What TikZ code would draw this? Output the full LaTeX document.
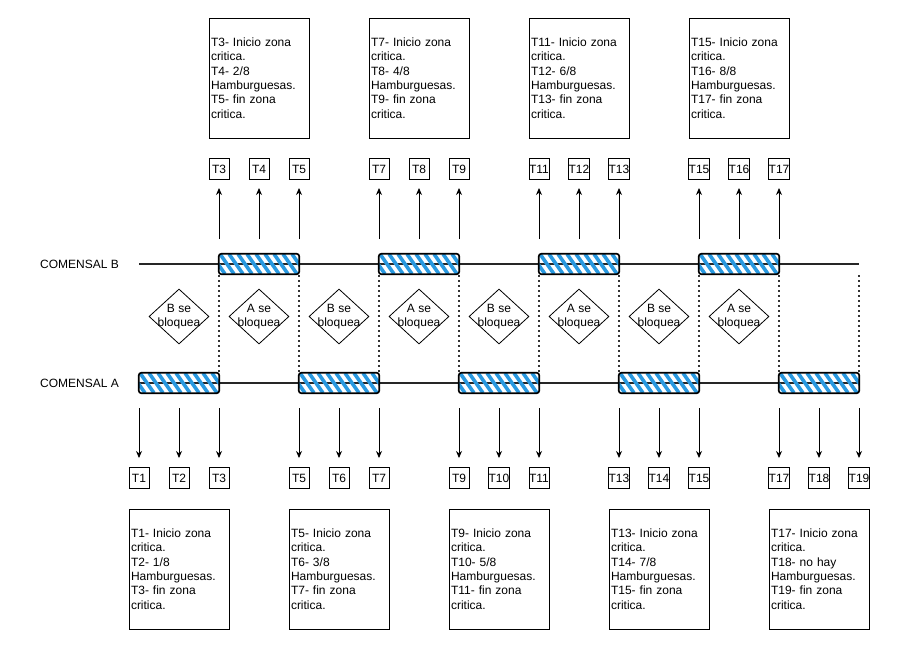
\documentclass[tikz,border=0pt]{standalone}
\usepackage{fontspec}
\setmainfont{Liberation Sans}
\usetikzlibrary{arrows.meta,shapes.geometric}
\definecolor{hblue}{RGB}{41,153,224}
\tikzset{
  every node/.style={font=\fontsize{12}{14.4}\selectfont},
  tl/.style={line width=1.3pt,black!85},
  bar/.style={minimum width=80pt,minimum height=20pt,inner sep=0pt,
    path picture={\foreach \i in {-3,...,11}{\draw[hblue,line width=3.6pt]
      ([xshift=\i*9pt-8pt]path picture bounding box.north west) -- ++(14pt,-20pt);}}},
  barborder/.style={draw=black,line width=1.7pt,rounded corners=2.5pt},
  dots/.style={line width=1.6pt,dash pattern=on 1.6pt off 3.4pt,black!80},
  tbox/.style={draw,line width=0.8pt,minimum width=20pt,minimum height=21pt,inner sep=0pt},
  infobox/.style={draw,line width=0.8pt,minimum width=100pt,minimum height=120pt,
    text width=96pt,inner xsep=2pt,inner ysep=0pt,align=left},
  dia/.style={diamond,draw,line width=0.8pt,minimum width=60pt,minimum height=55pt,inner sep=0pt},
  diatext/.style={align=center,inner sep=0pt},
  arr/.style={line width=0.9pt,-{Stealth[length=7pt,width=6pt]}},
  lbl/.style={anchor=west,inner sep=0pt}
}
\begin{document}
\begin{tikzpicture}[x=1pt,y=-1pt]
\useasboundingbox (0,0) rectangle (908,648);
% labels
\node[lbl] (lb) at (40,264) {COMENSAL B};
\node[lbl] (la) at (40,383) {COMENSAL A};
% timelines
\coordinate (bs) at (139,264); \coordinate (be) at (859,264);
\coordinate (as) at (139,383); \coordinate (ae) at (859,383);
\draw[tl] (bs) -- (be);
\draw[tl] (as) -- (ae);
% dotted verticals
\foreach \k in {3,5,7,9,11,13,15,17,19}{
  \pgfmathsetmacro\xx{139+40*(\k-1)}
  \coordinate (dt\k) at (\xx,275);
  \coordinate (db\k) at (\xx,373);
  \draw[dots] (dt\k) -- (db\k);
}
% B bars
\foreach \k/\n in {4/1,8/2,12/3,16/4}{
  \pgfmathsetmacro\xx{139+40*(\k-1)}
  \node[bar] (bb\n) at (\xx,264) {};
  \draw[barborder] (bb\n.south west) rectangle (bb\n.north east);
}
% A bars
\foreach \k/\n in {2/1,6/2,10/3,14/4,18/5}{
  \pgfmathsetmacro\xx{139+40*(\k-1)}
  \node[bar] (ab\n) at (\xx,383) {};
  \draw[barborder] (ab\n.south west) rectangle (ab\n.north east);
}
% diamonds
\foreach \k/\w/\n in {2/B/1,4/A/2,6/B/3,8/A/4,10/B/5,12/A/6,14/B/7,16/A/8}{
  \pgfmathsetmacro\xx{139+40*(\k-1)}
  \node[dia] (d\n) at (\xx,316.5) {};
  \node[diatext] (dt\n) at (d\n) {\w\ se\\bloquea};
}
% top arrows and labels
\foreach \k in {3,4,5,7,8,9,11,12,13,15,16,17}{
  \pgfmathsetmacro\xx{139+40*(\k-1)}
  \node[tbox] (ut\k) at (\xx,169) {T\k};
  \coordinate (us\k) at (\xx,239);
  \coordinate (ue\k) at (\xx,188);
  \draw[arr] (us\k) -- (ue\k);
}
% bottom arrows and labels
\foreach \k in {1,2,3,5,6,7,9,10,11,13,14,15,17,18,19}{
  \pgfmathsetmacro\xx{139+40*(\k-1)}
  \node[tbox] (lt\k) at (\xx,478) {T\k};
  \coordinate (ls\k) at (\xx,408);
  \coordinate (le\k) at (\xx,458);
  \draw[arr] (ls\k) -- (le\k);
}
% info boxes top
\node[infobox] (i1) at (259,78) {T3- Inicio zona\\critica.\\T4- 2/8\\Hamburguesas.\\T5- fin zona\\critica.};
\node[infobox] (i2) at (419,78) {T7- Inicio zona\\critica.\\T8- 4/8\\Hamburguesas.\\T9- fin zona\\critica.};
\node[infobox] (i3) at (579,78) {T11- Inicio zona\\critica.\\T12- 6/8\\Hamburguesas.\\T13- fin zona\\critica.};
\node[infobox] (i4) at (739,78) {T15- Inicio zona\\critica.\\T16- 8/8\\Hamburguesas.\\T17- fin zona\\critica.};
% info boxes bottom
\node[infobox] (j1) at (179,569) {T1- Inicio zona\\critica.\\T2- 1/8\\Hamburguesas.\\T3- fin zona\\critica.};
\node[infobox] (j2) at (339,569) {T5- Inicio zona\\critica.\\T6- 3/8\\Hamburguesas.\\T7- fin zona\\critica.};
\node[infobox] (j3) at (499,569) {T9- Inicio zona\\critica.\\T10- 5/8\\Hamburguesas.\\T11- fin zona\\critica.};
\node[infobox] (j4) at (659,569) {T13- Inicio zona\\critica.\\T14- 7/8\\Hamburguesas.\\T15- fin zona\\critica.};
\node[infobox] (j5) at (819,569) {T17- Inicio zona\\critica.\\T18- no hay\\Hamburguesas.\\T19- fin zona\\critica.};
\end{tikzpicture}
\end{document}
